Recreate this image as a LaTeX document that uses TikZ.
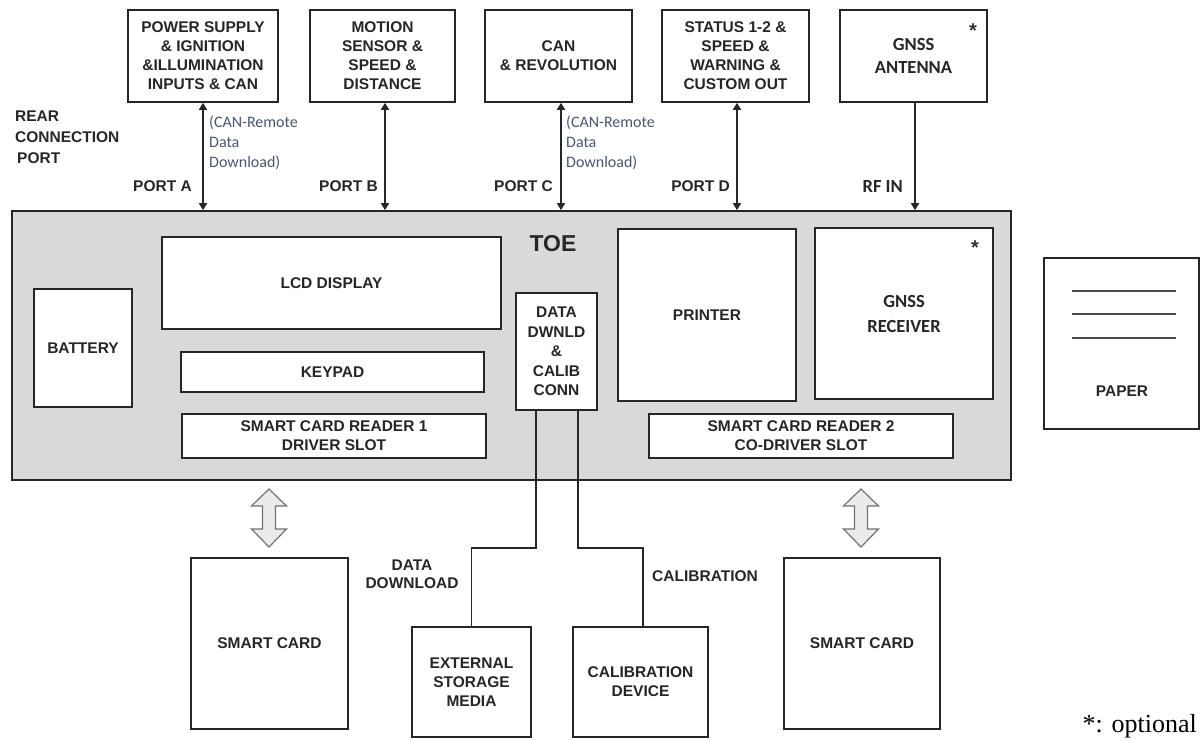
\documentclass[tikz,border=0pt]{standalone}
\usepackage{fontspec}
\setmainfont{Liberation Sans}
\newfontfamily\calibf{Carlito}
\newfontfamily\timesf{Liberation Serif}
\usetikzlibrary{arrows.meta}
\definecolor{toegray}{HTML}{D9D9D9}
\definecolor{notecol}{HTML}{4A5670}
\definecolor{linecol}{HTML}{262626}
\newcommand{\myboxfont}{\fontsize{15.5}{19}\selectfont\bfseries}
\newcommand{\mycalfont}{\calibf\fontsize{18.5}{23}\selectfont\bfseries}
\begin{document}
\begin{tikzpicture}[x=1pt,y=-1pt,
  box/.style={draw=linecol, line width=1.6pt, fill=white, align=center, font=\myboxfont, text=black!85, inner sep=0pt},
  lbl/.style={align=center, font=\myboxfont, text=black!85, inner sep=0pt},
  note/.style={align=left, font=\calibf\fontsize{16}{20}\selectfont, text=notecol, inner sep=0pt, anchor=north west},
  star/.style={inner sep=0pt, anchor=base, font=\fontsize{20}{20}\selectfont\bfseries, text=black!80},
  conn/.style={draw=linecol, line width=1.6pt},
  portarrow/.style={conn, {Triangle[length=7pt,width=8pt]}-{Triangle[length=7pt,width=8pt]}},
  inarrow/.style={conn, -{Triangle[length=7pt,width=8pt]}},
  cardarrow/.pic={\draw[draw=black!55, line width=1.2pt, fill=black!8, line join=miter]
     (0,-29) -- (17.5,-12) -- (6.5,-12) -- (6.5,11) -- (17.5,11) -- (0,29) -- (-17.5,11) -- (-6.5,11) -- (-6.5,-12) -- (-17.5,-12) -- cycle;}
]
\useasboundingbox (0,0) rectangle (1200,740);

% top boxes
\node[box, minimum width=150pt, minimum height=92pt] (ps) at (203,56) {POWER SUPPLY\\\& IGNITION\\\&ILLUMINATION\\INPUTS \& CAN};
\node[box, minimum width=145pt, minimum height=92pt] (ms) at (382.5,56) {MOTION\\SENSOR \&\\SPEED \&\\DISTANCE};
\node[box, minimum width=147pt, minimum height=92pt] (can) at (558.5,56) {CAN\\\& REVOLUTION};
\node[box, minimum width=147pt, minimum height=92pt] (st) at (735.5,56) {STATUS 1-2 \&\\SPEED \&\\WARNING \&\\CUSTOM OUT};
\node[box, minimum width=147pt, minimum height=92pt, font=\mycalfont] (gn) at (913.5,56) {GNSS\\ANTENNA};
\node[star] (ast1) at (973,37) {*};

% rear connection label
\node[lbl, align=left, anchor=north west, font=\fontsize{15.5}{21}\selectfont\bfseries] (rear) at (15,111) {REAR\\CONNECTION\\\hspace{2pt}PORT};

% TOE
\node[draw=linecol, line width=1.6pt, fill=toegray, minimum width=999pt, minimum height=269pt, inner sep=0pt] (toe) at (511.5,345.5) {};
\node[lbl, font=\fontsize{23}{26}\selectfont\bfseries] (toetxt) at (553,244) {TOE};

\node[box, minimum width=339pt, minimum height=92pt] (lcd) at (331.5,283) {LCD DISPLAY};
\node[box, minimum width=98pt, minimum height=118pt] (bat) at (83,348) {BATTERY};
\node[box, minimum width=303pt, minimum height=40pt] (key) at (332.5,372) {KEYPAD};
\node[box, minimum width=304pt, minimum height=44pt] (scr1) at (334,436) {SMART CARD READER 1\\DRIVER SLOT};
\node[box, minimum width=81pt, minimum height=117pt, font=\fontsize{15.5}{19.5}\selectfont\bfseries] (data) at (556.5,351.5) {DATA\\DWNLD\\\&\\CALIB\\CONN};
\node[box, minimum width=178pt, minimum height=172pt] (prn) at (707,315) {PRINTER};
\node[box, minimum width=178pt, minimum height=171pt, font=\calibf\fontsize{18.5}{25}\selectfont\bfseries] (gnr) at (904,313.5) {GNSS\\RECEIVER};
\node[star] (ast2) at (975,254) {*};
\node[box, minimum width=304pt, minimum height=44pt] (scr2) at (801,436) {SMART CARD READER 2\\CO-DRIVER SLOT};

% paper
\node[box, minimum width=155pt, minimum height=171pt] (paper) at (1121.5,343.5) {};
\node[lbl] (papertxt) at (1122,391) {PAPER};
\foreach \yy in {291,314,338}
  \draw[draw=black!70, line width=1.3pt] ([xshift=-49.5pt]paper.center |- 0,\yy) -- ([xshift=54.5pt]paper.center |- 0,\yy);

% port arrows and labels
\draw[portarrow] (ps.south) -- (ps.south |- toe.north);
\draw[portarrow] ([xshift=2.5pt]ms.south) -- ([xshift=2.5pt]ms.south |- toe.north);
\draw[portarrow] ([xshift=2.5pt]can.south) -- ([xshift=2.5pt]can.south |- toe.north);
\draw[portarrow] ([xshift=1.5pt]st.south) -- ([xshift=1.5pt]st.south |- toe.north);
\draw[inarrow] ([xshift=1.5pt]gn.south) -- ([xshift=1.5pt]gn.south |- toe.north);

\node[lbl, anchor=east] (pa) at (192,186) {PORT A};
\node[lbl, anchor=east] (pb) at (378,186) {PORT B};
\node[lbl, anchor=east] (pc) at (553,186) {PORT C};
\node[lbl, anchor=east] (pd) at (730,186) {PORT D};
\node[lbl, anchor=east, font=\mycalfont] (rf) at (903,186) {RF IN};
\node[note] (n1) at (209,116) {(CAN-Remote\\Data\\Download)};
\node[note] (n2) at (566,116) {(CAN-Remote\\Data\\Download)};

% bottom devices
\node[box, minimum width=157pt, minimum height=171pt] (sc1) at (269.5,643.5) {SMART CARD};
\node[box, minimum width=156pt, minimum height=171pt] (sc2) at (862,643.5) {SMART CARD};
\node[box, minimum width=119pt, minimum height=110pt] (stor) at (471.5,682) {EXTERNAL\\STORAGE\\MEDIA};
\node[box, minimum width=135pt, minimum height=110pt] (cal) at (640.5,682) {CALIBRATION\\DEVICE};

\pic at (269,518) {cardarrow};
\pic at (861,518) {cardarrow};

\coordinate (bend) at (0,548);
\draw[conn] ([xshift=-20.5pt]data.south) -- ([xshift=-20.5pt]data.south |- bend) -| (stor.north);
\draw[conn] ([xshift=21.5pt]data.south) -- ([xshift=21.5pt]data.south |- bend) -| ([xshift=2.5pt]cal.north);

\node[lbl, font=\fontsize{15.5}{18}\selectfont\bfseries] (ddl) at (412,574) {DATA\\DOWNLOAD};
\node[lbl, anchor=west] (cbl) at (652,576) {CALIBRATION};

\node[inner sep=0pt, anchor=east, font=\timesf\fontsize{26}{28}\selectfont] (opt) at (1197,726) {*: optional};
\end{tikzpicture}
\end{document}
